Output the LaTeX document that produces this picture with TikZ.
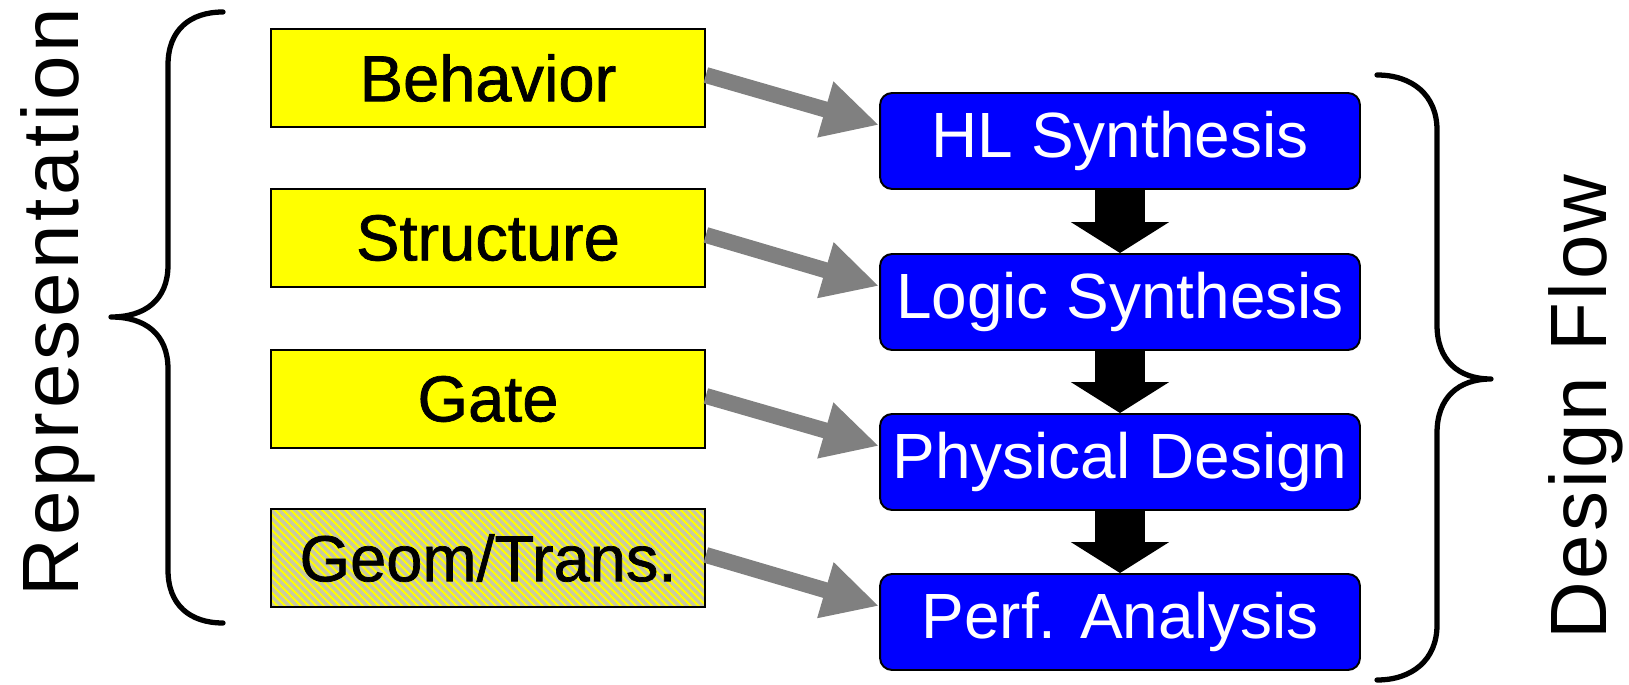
\documentclass[tikz,border=0pt]{standalone}
\usepackage{fontspec}
\setmainfont{Liberation Sans}
\newfontfamily\labelfont{Liberation Sans}[FakeBold=1.1]
\newfontfamily\sidefont{Liberation Sans}[LetterSpace=4.5]
\newfontfamily\flowfont{Liberation Sans}[LetterSpace=3.5]
\usetikzlibrary{arrows.meta}
\definecolor{boxyellow}{RGB}{255,255,0}
\definecolor{boxblue}{RGB}{0,0,255}
\definecolor{flowgray}{RGB}{128,128,128}
\definecolor{hatchgray}{RGB}{200,200,165}
\tikzset{
  repbox/.style={draw=black, line width=1pt, fill=boxyellow, minimum width=8.68cm,
    minimum height=1.96cm, inner sep=0pt,
    font=\labelfont\fontsize{37pt}{40pt}\selectfont},
  hatchbox/.style={repbox, fill=none},
  stagebox/.style={draw=black, line width=1.1pt, fill=boxblue, rounded corners=0.24cm,
    minimum width=9.6cm, minimum height=1.92cm, inner sep=0pt, text=white,
    font=\fontsize{36.4pt}{40pt}\selectfont},
  maparrow/.style={draw=flowgray, line width=0.32cm,
    -{Triangle[width=1.08cm,length=1.12cm]}},
  flowarrow/.style={draw=black, line width=1cm,
    -{Triangle[width=1.94cm,length=0.62cm]}},
  bracestroke/.style={draw=black, line width=3pt, line cap=round, line join=round},
  sidelabel/.style={rotate=90, anchor=base, inner sep=0pt}
}
\begin{document}
\begin{tikzpicture}[x=0.02cm, y=-0.02cm]
\useasboundingbox (0,0) rectangle (1629,685);

% representation levels
\node[repbox] (beh) at (488,78) {Behavior};
\node[repbox] (str) at (488,238) {Structure};
\node[repbox] (gat) at (488,399) {Gate};

% hatched geometry box
\fill[boxyellow] (271,509) rectangle (705,607);
\begin{scope}
  \clip (271,509) rectangle (705,607);
  \foreach \k in {-110,-102.2,...,440}
    \draw[hatchgray, line width=0.065cm] (271+\k,509) -- (371+\k,609);
\end{scope}
\node[hatchbox] (geo) at (488,558) {Geom/Trans.};

% design flow stages
\node[stagebox] (hls) at (1120,141) {HL Synthesis};
\node[stagebox] (lgs) at (1120,302) {Logic Synthesis};
\node[stagebox] (phy) at (1120,462) {Physical Design};
\node[stagebox] (prf) at (1120,622) {Perf. Analysis};

% flow between stages
\draw[flowarrow] (hls.south) -- (lgs.north);
\draw[flowarrow] (lgs.south) -- (phy.north);
\draw[flowarrow] (phy.south) -- (prf.north);

% representation to stage
\draw[maparrow] ([yshift=0.06cm]beh.east) -- ([yshift=0.32cm]hls.west);
\draw[maparrow] ([yshift=0.06cm]str.east) -- ([yshift=0.32cm]lgs.west);
\draw[maparrow] ([yshift=0.06cm]gat.east) -- ([yshift=0.32cm]phy.west);
\draw[maparrow] ([yshift=0.06cm]geo.east) -- ([yshift=0.32cm]prf.west);

% left brace
\draw[bracestroke] (223,12) .. controls (190,12) and (168,30) .. (168,65)
  -- (168,265) .. controls (168,300) and (145,317) .. (111,317)
  .. controls (145,317) and (168,334) .. (168,369)
  -- (168,570) .. controls (168,605) and (190,623) .. (223,623);

% right brace
\draw[bracestroke] (1377,75) .. controls (1412,75) and (1437,95) .. (1437,130)
  -- (1437,325) .. controls (1437,360) and (1458,379) .. (1491,379)
  .. controls (1458,379) and (1437,398) .. (1437,433)
  -- (1437,625) .. controls (1437,660) and (1412,680) .. (1377,680);

% side labels
\node[sidelabel, font=\sidefont\fontsize{45.5pt}{48pt}\selectfont] (rep) at (78,302) {Representation};
\node[sidelabel, font=\flowfont\fontsize{45.5pt}{48pt}\selectfont] (dfl) at (1606,407) {Design Flow};
\end{tikzpicture}
\end{document}
